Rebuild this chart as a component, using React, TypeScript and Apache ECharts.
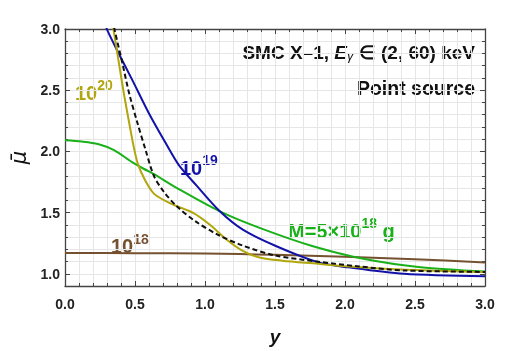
import React, { useEffect, useRef } from "react";
import * as echarts from "echarts";

// ---- data ----
const blueX = [0.28, 0.306, 0.388, 0.482, 0.6, 0.718, 0.812, 0.94, 1.106, 1.27, 1.506, 1.81, 2.02, 2.42, 3.0];
const blueY = [3.06, 2.98, 2.79, 2.58, 2.31, 2.07, 1.89, 1.72, 1.51, 1.36, 1.227, 1.093, 1.053, 1.0, 0.98];

const greenX = [0, 0.12, 0.235, 0.35, 0.482, 0.565, 0.635, 0.8, 1.106, 1.39, 1.765, 2.14, 2.54, 3.0];
const greenY = [2.09, 2.08, 2.06, 2.01, 1.91, 1.856, 1.815, 1.7, 1.51, 1.375, 1.227, 1.12, 1.053, 1.018];

const oliveX = [0.33, 0.346, 0.388, 0.424, 0.459, 0.494, 0.52, 0.565, 0.635, 0.753, 0.918, 1.035, 1.153, 1.27, 1.39, 1.553, 1.81, 2.0, 2.4, 3.0];
const oliveY = [3.12, 3.0, 2.7, 2.45, 2.23, 2.02, 1.9, 1.78, 1.655, 1.575, 1.495, 1.4, 1.28, 1.187, 1.133, 1.107, 1.082, 1.062, 1.035, 1.013];

const dashX = [0.34, 0.353, 0.412, 0.459, 0.518, 0.576, 0.635, 0.706, 0.8, 0.93, 1.09, 1.27, 1.5, 1.8, 2.1, 2.42, 3.0];
const dashY = [3.08, 3.0, 2.71, 2.47, 2.23, 2.01, 1.8, 1.67, 1.55, 1.43, 1.32, 1.23, 1.15, 1.1, 1.06, 1.027, 1.015];

const brownX = [0, 0.5, 1.0, 1.5, 2.0, 2.5, 3.0];
const brownY = [1.17, 1.168, 1.165, 1.155, 1.14, 1.118, 1.093];

const xTickLabels = ["0.0", "0.5", "1.0", "1.5", "2.0", "2.5", "3.0"];
const yMajor = [1.0, 1.5, 2.0, 2.5, 3.0];

const OLIVE = "#b1a60b";
const BLUE = "#1212a8";
const GREEN = "#19b019";
const BROWN = "#75512f";
const FONT = "Liberation Sans";

// Arial/Liberation Sans Bold advance widths (per 1000 em)
const ADV: Record<string, number> = { "1": 556, "0": 556, "5": 556, M: 833, "=": 584, "×": 584, " ": 278 };
const textW = (s: string, size: number) => s.split("").reduce((a, c) => a + (ADV[c] ?? 556), 0) * size / 1000;

const pairs = (xs: number[], ys: number[]) => xs.map((x, i) => [x, ys[i]]);

export default function App() {
  const ref = useRef<HTMLDivElement>(null);
  useEffect(() => {
    if (!ref.current) return;
    const chart = echarts.init(ref.current, undefined, { renderer: "svg" });
    const axisLine = { show: true, lineStyle: { color: "#444", width: 1.3 } };
    const grid = "#e6e6e6";
    const isMajor = (v: number) => Math.abs(v * 2 - Math.round(v * 2)) < 1e-6;
    const baseX = {
      type: "value" as const,
      min: 0,
      max: 3,
      interval: 0.5,
      axisLine,
      axisTick: { show: true, inside: true, length: 5, lineStyle: { color: "#444" } },
      minorTick: { show: true, splitNumber: 5, length: 3, lineStyle: { color: "#444" } },
    };
    const baseY = {
      type: "value" as const,
      min: 0.9,
      max: 3.0,
      interval: 0.1,
      axisLine,
      axisTick: { show: true, inside: true, length: 3, lineStyle: { color: "#444" } },
    };
    const line = (name: string, data: number[][], color: string, dashed = false) => ({
      type: "line",
      name,
      data,
      showSymbol: false,
      smooth: 0.3,
      clip: true,
      lineStyle: { color, width: 2, type: dashed ? [5, 3] : "solid" },
      z: dashed ? 5 : 3,
    });
    const plain = (text: string, x: number, y: number, size: number, color: string, align = "left", extra: any = {}) => ({
      type: "text",
      x,
      y,
      style: {
        text,
        align,
        verticalAlign: "middle",
        fontFamily: FONT,
        fontWeight: "bold",
        fontSize: size,
        fill: color,
        ...extra,
      },
    });
    const MAIN = 20;
    const SUP = 14;
    const powLabel = (pre: string, sup: string, post: string, x: number, y: number, color: string, supDy = -8) => {
      const w = textW(pre, MAIN);
      const els: any[] = [plain(pre, x, y, MAIN, color), plain(sup, x + w, y + supDy, SUP, color)];
      if (post) els.push(plain(post, x + w + textW(sup, SUP), y, MAIN, color));
      return els;
    };
    chart.setOption({
      animation: false,
      grid: { left: 60, right: 29, top: 29, bottom: 60 },
      xAxis: [
        {
          ...baseX,
          position: "bottom",
          splitLine: { show: true, lineStyle: { color: grid } },
          minorSplitLine: { show: true, lineStyle: { color: grid } },
          axisLabel: {
            margin: 11,
            fontFamily: FONT,
            fontWeight: "bold",
            fontSize: 14,
            color: "#222",
            formatter: (v: number) => xTickLabels[Math.round(v * 2)] ?? "",
          },
          name: "y",
          nameLocation: "middle",
          nameGap: 41,
          nameTextStyle: { fontFamily: FONT, fontStyle: "italic", fontWeight: "bold", fontSize: 19, color: "#111" },
        },
        {
          ...baseX,
          position: "top",
          splitLine: { show: false },
          axisLabel: { show: false },
        },
      ],
      yAxis: [
        {
          ...baseY,
          position: "left",
          splitLine: { show: true, lineStyle: { color: grid } },
          axisLabel: {
            margin: 5,
            fontFamily: FONT,
            fontWeight: "bold",
            fontSize: 14,
            color: "#222",
            formatter: (v: number) => (isMajor(v) && v > 0.95 ? v.toFixed(1) : ""),
          },
          name: "μ\u0304",
          nameLocation: "middle",
          nameRotate: 90,
          nameGap: 36,
          nameTextStyle: { fontFamily: "DejaVu Sans", fontStyle: "italic", fontSize: 21, color: "#111" },
        },
        {
          ...baseY,
          position: "left",
          axisLine: { show: false },
          splitLine: { show: false },
          axisLabel: { show: false },
          axisTick: { show: true, inside: true, length: 5, customValues: yMajor, lineStyle: { color: "#444" } },
        },
        {
          ...baseY,
          position: "right",
          splitLine: { show: false },
          axisLabel: { show: false },
        },
        {
          ...baseY,
          position: "right",
          axisLine: { show: false },
          splitLine: { show: false },
          axisLabel: { show: false },
          axisTick: { show: true, inside: true, length: 5, customValues: yMajor, lineStyle: { color: "#444" } },
        },
      ],
      series: [
        line("1e18", pairs(brownX, brownY), BROWN),
        line("M=5e18", pairs(greenX, greenY), GREEN),
        line("1e19", pairs(blueX, blueY), BLUE),
        line("1e20", pairs(oliveX, oliveY), OLIVE),
        line("point", pairs(dashX, dashY), "#111", true),
      ],
      graphic: [
        {
          type: "text",
          x: 475,
          y: 52,
          style: {
            text: "{b|SMC X\u20131, }{i|E}{s|γ}{b| ∈ (2, 60) keV}",
            align: "right",
            verticalAlign: "middle",
            rich: {
              b: { fontFamily: FONT, fontWeight: "bold", fontSize: 19, lineHeight: 20, fill: "#111" },
              i: { fontFamily: FONT, fontWeight: "bold", fontStyle: "italic", fontSize: 19, lineHeight: 20, fill: "#111" },
              s: { fontFamily: FONT, fontStyle: "italic", fontSize: 13, lineHeight: 11, fill: "#111", verticalAlign: "bottom" },
            },
          },
        },
        plain("Point source", 475, 88, 19.5, "#111", "right"),
        ...powLabel("10", "20", "", 75, 93, OLIVE),
        ...powLabel("10", "19", "", 180, 168, BLUE),
        ...powLabel("10", "18", "", 111, 245.5, BROWN, -7),
        ...powLabel("M=5×10", "18", " g", 288, 230.5, GREEN),
      ],
    });
    return () => chart.dispose();
  }, []);
  return <div ref={ref} style={{ position: "fixed", left: 0, top: 0, width: 514, height: 351 }} />;
}
